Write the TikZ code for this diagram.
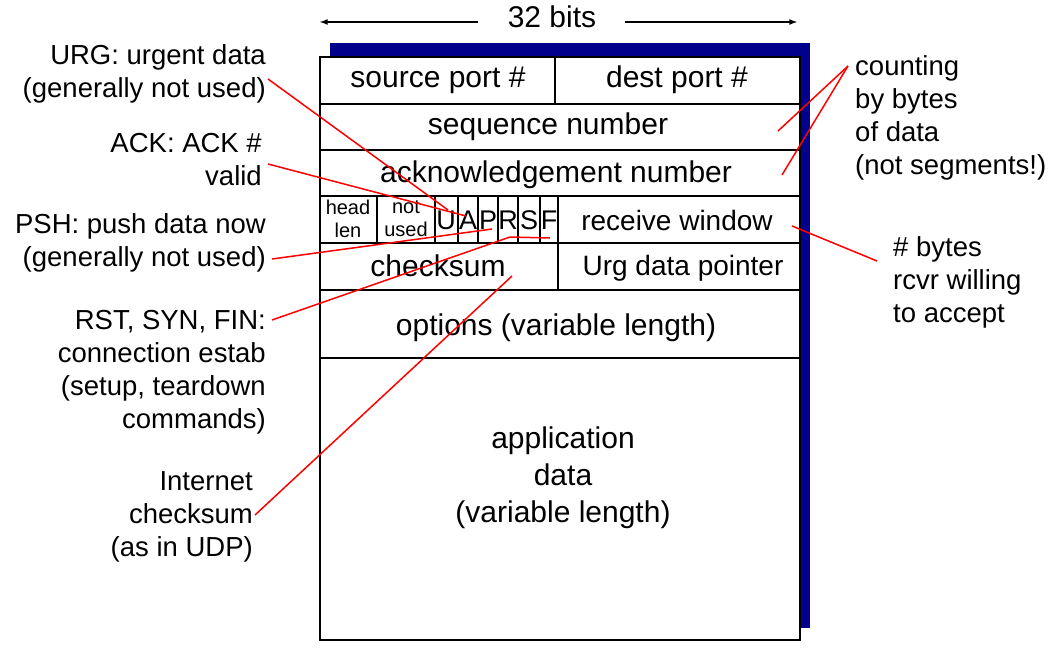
\documentclass[tikz,border=0pt]{standalone}
\usepackage{fontspec}
\setmainfont{Liberation Sans}
\definecolor{navy}{RGB}{0,0,140}
\begin{document}
\begin{tikzpicture}[x=1pt,y=-1pt,
  box/.style={draw=black,line width=2.5pt},
  fld/.style={font=\fontsize{30}{34}\selectfont},
  flg/.style={font=\fontsize{27}{30}\selectfont,inner sep=0pt},
  sml/.style={font=\fontsize{20}{23}\selectfont,align=center,inner sep=0pt},
  lbl/.style={font=\fontsize{27.5}{33}\selectfont,inner sep=0pt},
  rl/.style={red,line width=1.5pt}]
\useasboundingbox (0,0) rectangle (1056,648);
\fill[navy] (330,43) rectangle (810,628);
\fill[white,box] (320,57) rectangle (800,640);
\foreach \y in {104,150,196,243,290,358} \draw[box] (320,\y) -- (800,\y);
\draw[box] (555,57) -- (555,104);
\draw[box] (558,196) -- (558,290);
\foreach \x in {377,435,458,478,498,518,540} \draw[line width=1.6pt] (\x,196) -- (\x,243);
% arrows 32 bits
\node[fld] (bits) at (552,17) {32 bits};
\coordinate (bl) at (320,22); \coordinate (br) at (797,22);
\draw[-latex,line width=1.6pt] (478,22) -- (bl);
\draw[-latex,line width=1.6pt] (625,22) -- (br);
% fields
\node[fld] (sp) at (438,80) {source port \#};
\node[fld] (dp) at (677,80) {dest port \#};
\node[fld] (seq) at (548,127) {sequence number};
\node[fld] (ack) at (556,175) {acknowledgement number};
\node[sml] (hl) at (348,219) {head\\len};
\node[sml] (nu) at (406,219) {not\\used};
\node[flg] (fu) at (446,220) {U};
\node[flg] (fa) at (468,220) {A};
\node[flg] (fp) at (488,220) {P};
\node[flg] (fr) at (508,220) {R};
\node[flg] (fs) at (529,220) {S};
\node[flg] (ff) at (549,220) {F};
\node[fld,font=\fontsize{28}{30}\selectfont] (rw) at (677,220) {receive window};
\node[fld] (cs) at (438,266) {checksum};
\node[fld,font=\fontsize{28}{30}\selectfont] (urg) at (683,268) {Urg data pointer};
\node[fld] (opt) at (556,328) {options (variable length)};
\node[fld,align=center,font=\fontsize{30}{37}\selectfont] (app) at (563,478) {application\\data\\(variable length)};
% labels
\node[lbl,align=right,anchor=east] (l1) at (266,74) {URG: urgent data\\(generally not used)};
\node[lbl,align=right,anchor=east] (l2) at (262,160) {ACK: ACK \#\\valid};
\node[lbl,align=right,anchor=east] (l3) at (266,243) {PSH: push data now\\(generally not used)};
\node[lbl,align=right,anchor=east] (l4) at (266,372) {RST, SYN, FIN:\\connection estab\\(setup, teardown\\commands)};
\node[lbl,align=right,anchor=east] (l5) at (253,517) {Internet\\checksum\\(as in UDP)};
\node[lbl,align=left,anchor=west] (r1) at (855,118) {counting\\by bytes\\of data\\(not segments!)};
\node[lbl,align=left,anchor=west] (r2) at (893,282) {\# bytes\\rcvr willing\\to accept};
\coordinate (e1) at (268,79); \coordinate (t1) at (448,210);
\coordinate (e2) at (268,164); \coordinate (t2) at (466,216);
\coordinate (e3) at (272,259); \coordinate (t3) at (492,229);
\coordinate (e4) at (272,320); \coordinate (k4) at (510,237); \coordinate (t4) at (550,238);
\coordinate (e5) at (255,515); \coordinate (t5) at (512,276);
\coordinate (e6) at (848,66); \coordinate (t6a) at (778,131); \coordinate (t6b) at (782,175);
\coordinate (e7) at (877,261); \coordinate (t7) at (792,226);
\draw[rl] (e1) -- (t1);
\draw[rl] (e2) -- (t2);
\draw[rl] (e3) -- (t3);
\draw[rl] (e4) -- (k4) -- (t4);
\draw[rl] (e5) -- (t5);
\draw[rl] (e6) -- (t6a);
\draw[rl] (e6) -- (t6b);
\draw[rl] (e7) -- (t7);
\end{tikzpicture}
\end{document}
